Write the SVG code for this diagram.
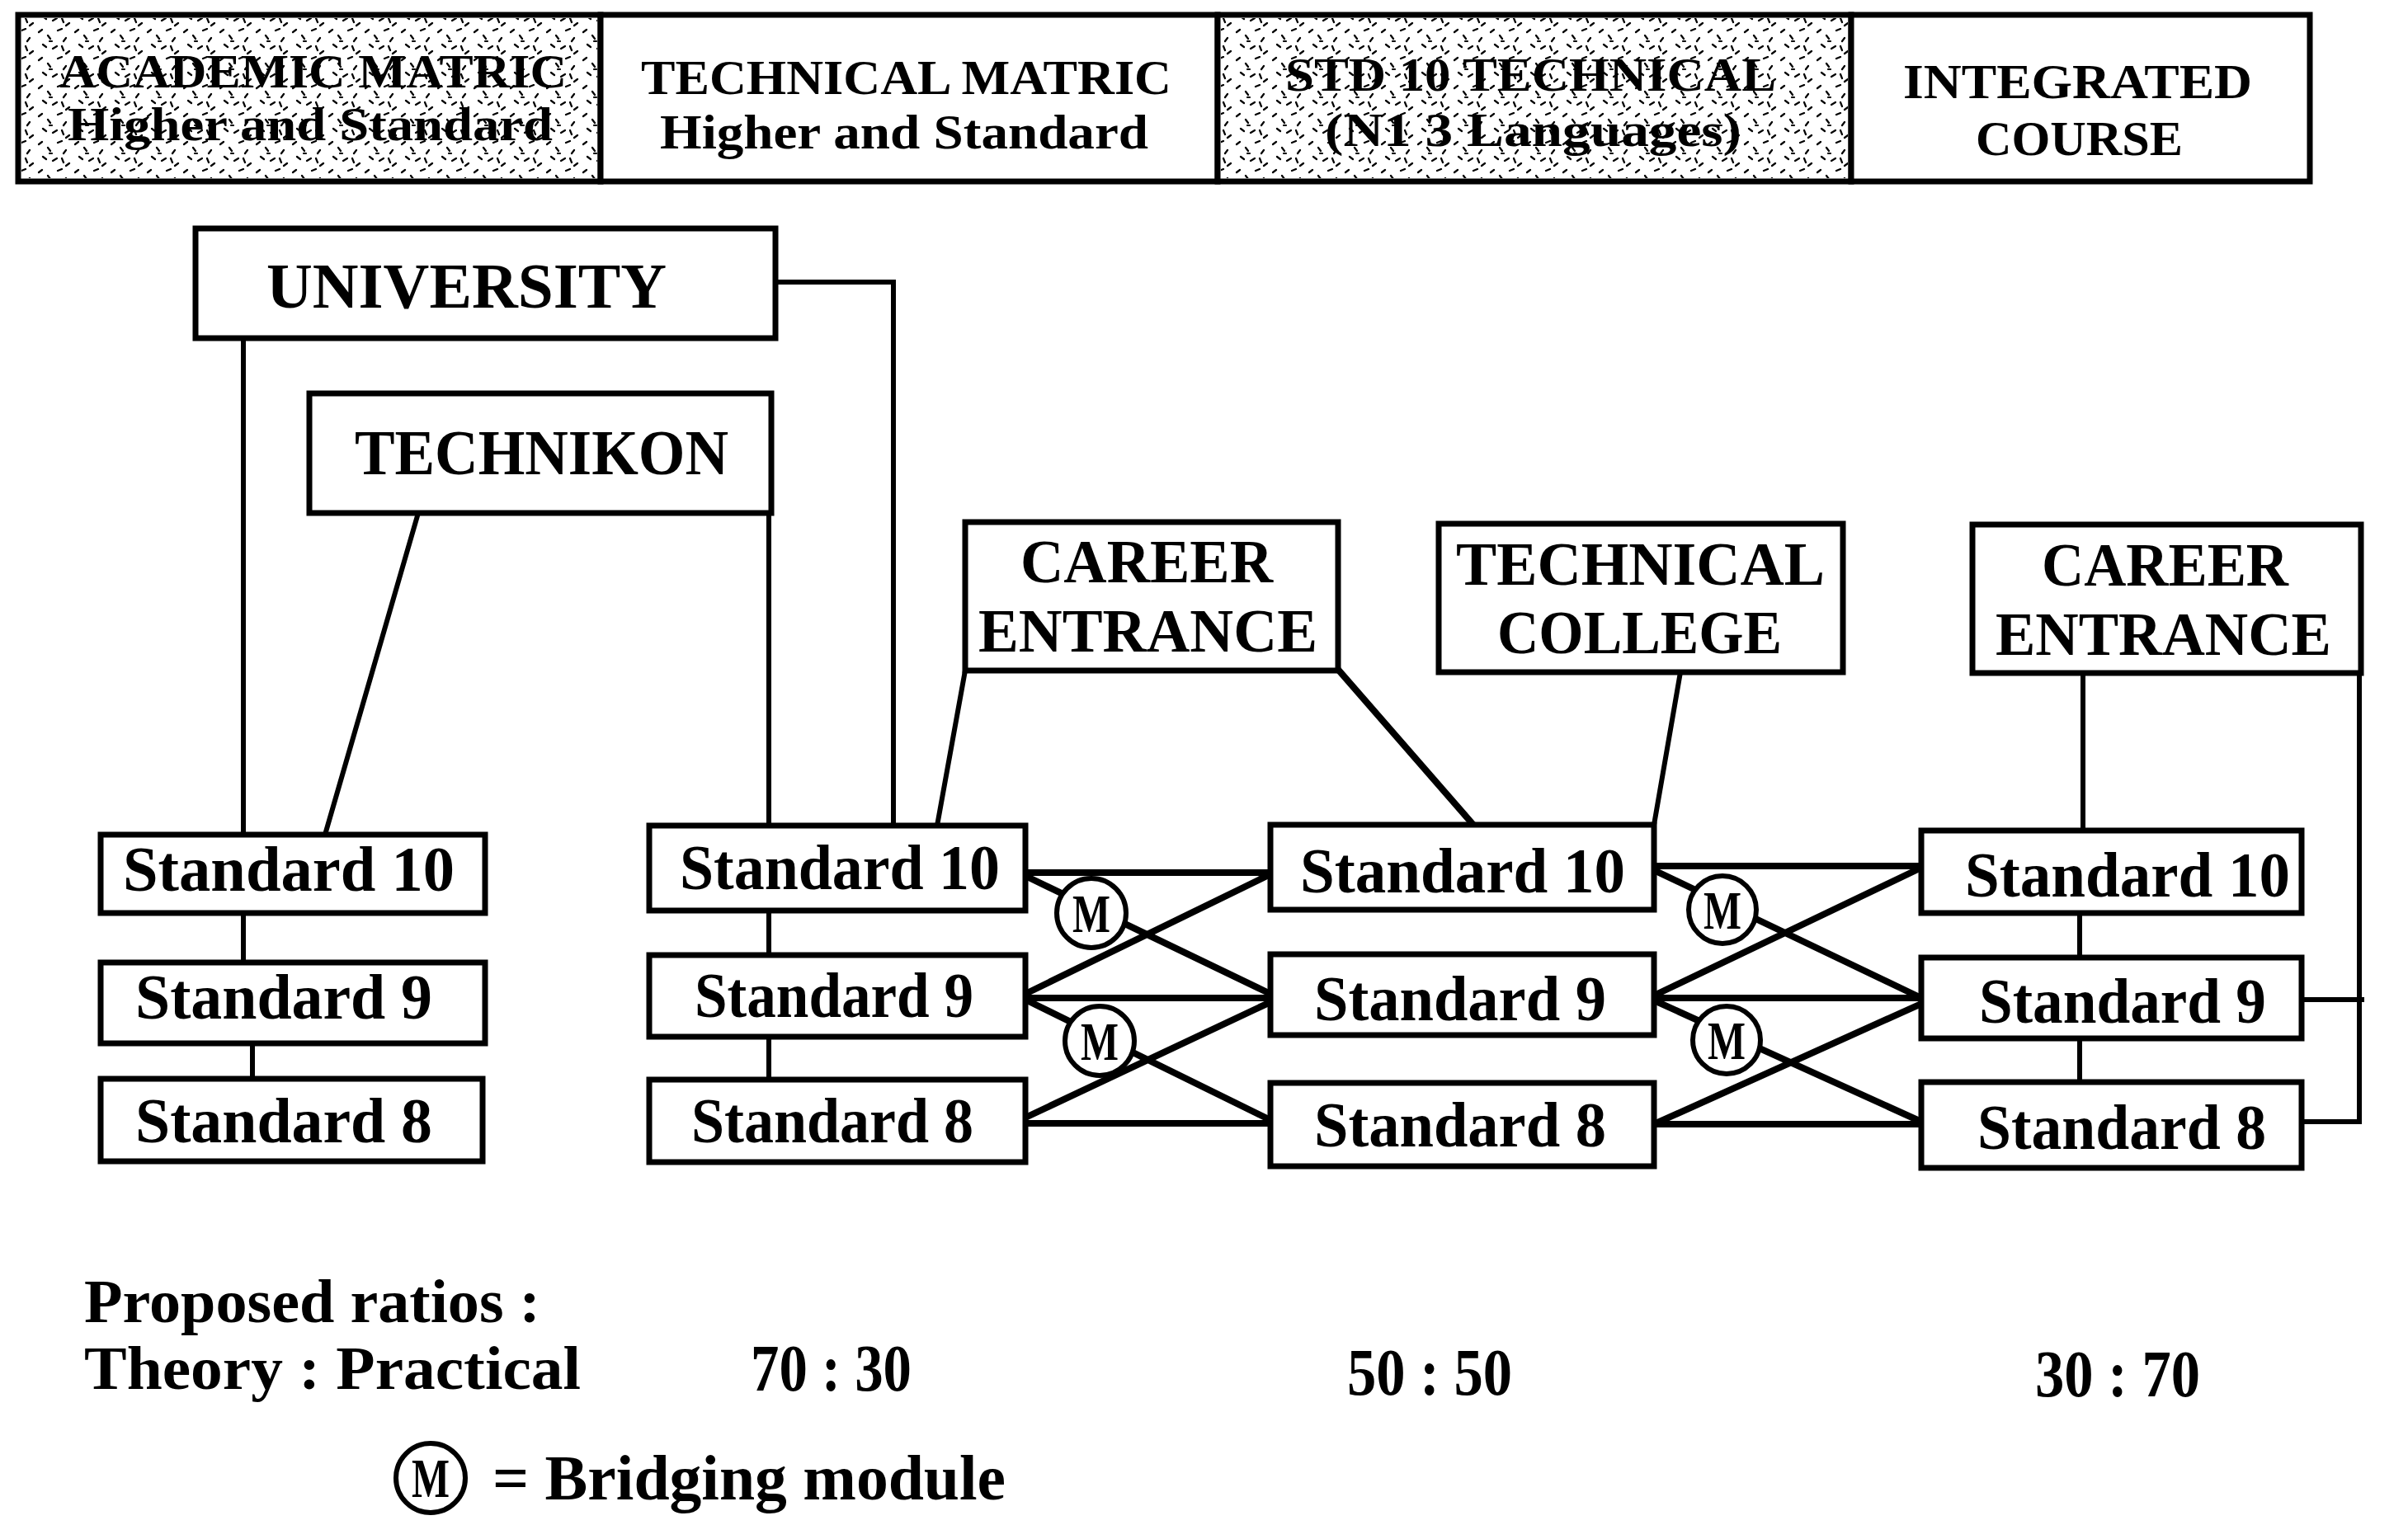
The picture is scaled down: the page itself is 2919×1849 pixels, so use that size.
<svg xmlns="http://www.w3.org/2000/svg" width="2919" height="1849" viewBox="0 0 2919 1849">
<defs>
<pattern id="stip" width="44" height="34" patternUnits="userSpaceOnUse">
<path d="M3 5 l4 -3 M14 9 l3 4 M26 3 l5 -2 M36 12 l-3 4 M8 20 l4 3 M20 25 l5 -3 M31 22 l2 5 M40 28 l-4 3 M16 16 l3 0" stroke="#000" stroke-width="2.2" stroke-linecap="round" fill="none"/>
</pattern>
</defs>
<style>
.box{fill:#fff;stroke:#000;stroke-width:7}
.shade{fill:url(#stip);stroke:none}
.t{font-family:"Liberation Serif","DejaVu Serif",serif;font-weight:bold;fill:#000}
.c{stroke:#000;stroke-width:6;fill:none;stroke-linecap:square}
.x{stroke-width:8}
.m{fill:#fff;stroke:#000;stroke-width:6}
</style>
<rect width="2919" height="1849" fill="#fff"/>

<g id="connectors">
<path class="c" d="M295 410 V1012"/>
<path class="c" d="M940 342 H1083 V1001"/>
<path class="c" d="M507 622 L394 1012"/>
<path class="c" d="M932 622 V1001"/>
<path class="c" d="M295 1107 V1167 M306 1265 V1308"/>
<path class="c" d="M932 1104 V1158 M932 1257 V1309"/>
<path class="c" d="M1170 813 L1136 1001"/>
<path class="c x" d="M1623 813 L1786 1000"/>
<path class="c" d="M2037 815 L2005 1000"/>
<path class="c" d="M2525 816 V1007"/>
<path class="c" d="M2521 1107 V1161 M2521 1259 V1312"/>
<path class="c" d="M2860 816 V1360 H2790 M2790 1212 H2863"/>
<path class="c x" d="M1243 1058 H1540 M1243 1210 H1540 M1243 1362 H1540"/>
<path class="c x" d="M1243 1062 L1540 1205 M1243 1205 L1540 1060 M1243 1212 L1540 1358 M1243 1355 L1540 1215"/>
<path class="c x" d="M2005 1050 H2329 M2005 1210 H2329 M2005 1363 H2329"/>
<path class="c x" d="M2005 1055 L2329 1210 M2005 1207 L2329 1052 M2005 1213 L2329 1360 M2005 1363 L2329 1217"/>
</g>

<g id="hdr-academic">
<rect class="box" x="22" y="18" width="706" height="202"/>
<rect class="shade" x="26" y="22" width="698" height="194"/>
<text class="t" x="72" y="106" font-size="57" textLength="615" lengthAdjust="spacingAndGlyphs">ACADEMIC MATRIC</text>
<text class="t" x="82" y="170" font-size="57" textLength="588" lengthAdjust="spacingAndGlyphs">Higher and Standard</text>
</g>
<g id="hdr-technical">
<rect class="box" x="728" y="18" width="748" height="202"/>
<text class="t" x="777" y="114" font-size="59" textLength="643" lengthAdjust="spacingAndGlyphs">TECHNICAL MATRIC</text>
<text class="t" x="800" y="180" font-size="59" textLength="592" lengthAdjust="spacingAndGlyphs">Higher and Standard</text>
</g>
<g id="hdr-std10">
<rect class="box" x="1476" y="18" width="768" height="202"/>
<rect class="shade" x="1480" y="22" width="760" height="194"/>
<text class="t" x="1558" y="110" font-size="57" textLength="595" lengthAdjust="spacingAndGlyphs">STD 10 TECHNICAL</text>
<text class="t" x="1606" y="177" font-size="57" textLength="505" lengthAdjust="spacingAndGlyphs">(N1 3 Languages)</text>
</g>
<g id="hdr-integrated">
<rect class="box" x="2244" y="18" width="556" height="202"/>
<text class="t" x="2307" y="119" font-size="60" textLength="423" lengthAdjust="spacingAndGlyphs">INTEGRATED</text>
<text class="t" x="2395" y="188" font-size="60" textLength="251" lengthAdjust="spacingAndGlyphs">COURSE</text>
</g>

<g id="university">
<rect class="box" x="237" y="277" width="703" height="133"/>
<text class="t" x="323" y="373" font-size="78" textLength="485" lengthAdjust="spacingAndGlyphs">UNIVERSITY</text>
</g>
<g id="technikon">
<rect class="box" x="375" y="477" width="560" height="145"/>
<text class="t" x="430" y="575" font-size="78" textLength="453" lengthAdjust="spacingAndGlyphs">TECHNIKON</text>
</g>
<g id="career1">
<rect class="box" x="1170" y="633" width="452" height="180"/>
<text class="t" x="1237" y="706" font-size="74" textLength="306" lengthAdjust="spacingAndGlyphs">CAREER</text>
<text class="t" x="1186" y="790" font-size="74" textLength="411" lengthAdjust="spacingAndGlyphs">ENTRANCE</text>
</g>
<g id="techcollege">
<rect class="box" x="1744" y="635" width="490" height="180"/>
<text class="t" x="1765" y="709" font-size="74" textLength="447" lengthAdjust="spacingAndGlyphs">TECHNICAL</text>
<text class="t" x="1815" y="792" font-size="74" textLength="345" lengthAdjust="spacingAndGlyphs">COLLEGE</text>
</g>
<g id="career2">
<rect class="box" x="2391" y="636" width="471" height="180"/>
<text class="t" x="2475" y="710" font-size="74" textLength="299" lengthAdjust="spacingAndGlyphs">CAREER</text>
<text class="t" x="2419" y="794" font-size="74" textLength="407" lengthAdjust="spacingAndGlyphs">ENTRANCE</text>
</g>

<g id="a-std10"><rect class="box" x="122" y="1012" width="466" height="95"/>
<text class="t" x="149" y="1080" font-size="78" textLength="402" lengthAdjust="spacingAndGlyphs">Standard 10</text></g>
<g id="a-std9"><rect class="box" x="122" y="1167" width="466" height="98"/>
<text class="t" x="164" y="1235" font-size="78" textLength="360" lengthAdjust="spacingAndGlyphs">Standard 9</text></g>
<g id="a-std8"><rect class="box" x="122" y="1308" width="463" height="100"/>
<text class="t" x="164" y="1385" font-size="78" textLength="360" lengthAdjust="spacingAndGlyphs">Standard 8</text></g>

<g id="b-std10"><rect class="box" x="787" y="1001" width="456" height="103"/>
<text class="t" x="824" y="1078" font-size="78" textLength="388" lengthAdjust="spacingAndGlyphs">Standard 10</text></g>
<g id="b-std9"><rect class="box" x="787" y="1158" width="456" height="99"/>
<text class="t" x="842" y="1233" font-size="78" textLength="338" lengthAdjust="spacingAndGlyphs">Standard 9</text></g>
<g id="b-std8"><rect class="box" x="787" y="1309" width="456" height="100"/>
<text class="t" x="838" y="1385" font-size="78" textLength="342" lengthAdjust="spacingAndGlyphs">Standard 8</text></g>

<g id="c-std10"><rect class="box" x="1540" y="1000" width="465" height="103"/>
<text class="t" x="1576" y="1082" font-size="78" textLength="394" lengthAdjust="spacingAndGlyphs">Standard 10</text></g>
<g id="c-std9"><rect class="box" x="1540" y="1157" width="465" height="98"/>
<text class="t" x="1593" y="1237" font-size="78" textLength="354" lengthAdjust="spacingAndGlyphs">Standard 9</text></g>
<g id="c-std8"><rect class="box" x="1540" y="1313" width="465" height="101"/>
<text class="t" x="1593" y="1390" font-size="78" textLength="354" lengthAdjust="spacingAndGlyphs">Standard 8</text></g>

<g id="d-std10"><rect class="box" x="2329" y="1007" width="461" height="100"/>
<text class="t" x="2382" y="1087" font-size="78" textLength="394" lengthAdjust="spacingAndGlyphs">Standard 10</text></g>
<g id="d-std9"><rect class="box" x="2329" y="1161" width="461" height="98"/>
<text class="t" x="2399" y="1240" font-size="78" textLength="348" lengthAdjust="spacingAndGlyphs">Standard 9</text></g>
<g id="d-std8"><rect class="box" x="2329" y="1312" width="461" height="104"/>
<text class="t" x="2397" y="1393" font-size="78" textLength="350" lengthAdjust="spacingAndGlyphs">Standard 8</text></g>

<g id="m1"><circle class="m" cx="1323" cy="1107" r="42"/><text class="t" x="1323" y="1130" font-size="66" text-anchor="middle" textLength="46" lengthAdjust="spacingAndGlyphs">M</text></g>
<g id="m2"><circle class="m" cx="1333" cy="1262" r="42"/><text class="t" x="1333" y="1285" font-size="66" text-anchor="middle" textLength="46" lengthAdjust="spacingAndGlyphs">M</text></g>
<g id="m3"><circle class="m" cx="2088" cy="1103" r="41"/><text class="t" x="2088" y="1126" font-size="66" text-anchor="middle" textLength="46" lengthAdjust="spacingAndGlyphs">M</text></g>
<g id="m4"><circle class="m" cx="2093" cy="1261" r="41"/><text class="t" x="2093" y="1284" font-size="66" text-anchor="middle" textLength="46" lengthAdjust="spacingAndGlyphs">M</text></g>

<g id="ratios">
<text class="t" x="102" y="1603" font-size="74" textLength="553" lengthAdjust="spacingAndGlyphs">Proposed ratios :</text>
<text class="t" x="102" y="1684" font-size="74" textLength="602" lengthAdjust="spacingAndGlyphs">Theory : Practical</text>
<text class="t" x="910" y="1686" font-size="80" textLength="195" lengthAdjust="spacingAndGlyphs">70 : 30</text>
<text class="t" x="1633" y="1691" font-size="80" textLength="200" lengthAdjust="spacingAndGlyphs">50 : 50</text>
<text class="t" x="2467" y="1693" font-size="80" textLength="200" lengthAdjust="spacingAndGlyphs">30 : 70</text>
</g>
<g id="legend">
<circle class="m" cx="522" cy="1792" r="42"/>
<text class="t" x="522" y="1815" font-size="68" text-anchor="middle" textLength="46" lengthAdjust="spacingAndGlyphs">M</text>
<text class="t" x="597" y="1818" font-size="78" textLength="622" lengthAdjust="spacingAndGlyphs">= Bridging module</text>
</g>
</svg>
